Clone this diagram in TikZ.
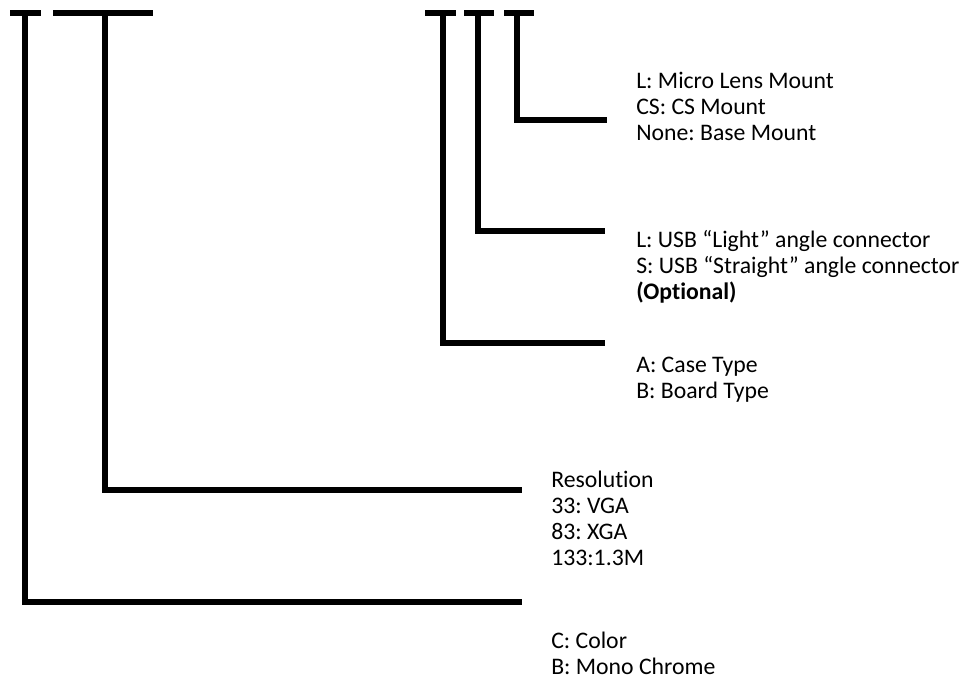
\documentclass[tikz,border=0pt]{standalone}
\usepackage{fontspec}
\setmainfont{Carlito}[Ligatures=NoCommon]
\begin{document}
\frenchspacing
\begin{tikzpicture}[x=0.75pt,y=-0.75pt,
  bar/.style={line width=4.5pt,line cap=butt},
  leg/.style={line width=4.5pt,line cap=butt,line join=miter},
  lbl/.style={anchor=north west,inner sep=0pt,align=left,yshift=14.5pt,
    font=\fontsize{17.8pt}{19.5pt}\selectfont}]
\useasboundingbox (0,0) rectangle (980,679);
% top bars
\coordinate (b1l) at (10,13);  \coordinate (b1r) at (41,13);
\coordinate (b2l) at (53,13);  \coordinate (b2r) at (153,13);
\coordinate (b3l) at (425,13); \coordinate (b3r) at (456,13);
\coordinate (b4l) at (464,13); \coordinate (b4r) at (494,13);
\coordinate (b5l) at (504,13); \coordinate (b5r) at (534,13);
\draw[bar] (b1l) -- (b1r);
\draw[bar] (b2l) -- (b2r);
\draw[bar] (b3l) -- (b3r);
\draw[bar] (b4l) -- (b4r);
\draw[bar] (b5l) -- (b5r);
% legs
\coordinate (t1) at (25,13);  \coordinate (c1) at (25,601.5);  \coordinate (e1) at (522,601.5);
\coordinate (t2) at (105,13); \coordinate (c2) at (105,490);   \coordinate (e2) at (522,490);
\coordinate (t3) at (443,13); \coordinate (c3) at (443,343);   \coordinate (e3) at (605,343);
\coordinate (t4) at (478,13); \coordinate (c4) at (478,231);   \coordinate (e4) at (605,231);
\coordinate (t5) at (517,13); \coordinate (c5) at (517,120);   \coordinate (e5) at (607,120);
\draw[leg] (t1) -- (c1) -- (e1);
\draw[leg] (t2) -- (c2) -- (e2);
\draw[leg] (t3) -- (c3) -- (e3);
\draw[leg] (t4) -- (c4) -- (e4);
\draw[leg] (t5) -- (c5) -- (e5);
% labels
\newcommand\topstrut{\rule{0pt}{14.5pt}}
\node[lbl] (lens) at (636,88) {\topstrut L: Micro Lens Mount\\CS: CS Mount\\None: Base Mount};
\node[lbl] (usb) at (636,247) {\topstrut L: USB “Light” angle connector\\S: USB “Straight” angle connector\\\textbf{(Optional)}};
\node[lbl] (type) at (636,372) {\topstrut A: Case Type\\B: Board Type};
\node[lbl] (res) at (551,487) {\topstrut Resolution\\33: VGA\\83: XGA\\133:1.3M};
\node[lbl] (col) at (551,648) {\topstrut C: Color\\B: Mono Chrome};
\end{tikzpicture}
\end{document}
